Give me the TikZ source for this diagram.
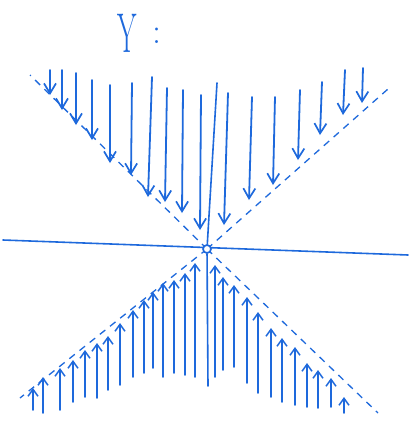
\documentclass[tikz,border=0pt]{standalone}
\usetikzlibrary{arrows.meta}
\definecolor{pen}{RGB}{30,105,220}
\begin{document}
\begin{tikzpicture}[x=1pt,y=-1pt,
  penline/.style={draw=pen,line width=1.6pt,line cap=round},
  downarr/.style={draw=pen,line width=1.8pt,line cap=round,-{Straight Barb[length=10pt,width=12pt,line width=1.7pt]}},
  uparr/.style={draw=pen,line width=1.5pt,line cap=round,-{Straight Barb[length=7pt,width=10pt,line width=1.5pt]}},
  guide/.style={draw=pen,line width=1.3pt,dash pattern=on 7pt off 6pt}]
\useasboundingbox (0,0) rectangle (409,421);
\fill[white] (0,0) rectangle (409,421);
% title
\node[text=pen,anchor=base,font=\fontsize{56}{56}\selectfont,inner sep=0] (ylab) at (127,52) {\scalebox{0.5}[1]{Y}};
\node[text=pen,anchor=base,font=\fontsize{36}{36}\selectfont,inner sep=0] (colon) at (157,43) {:};
% key points
\coordinate (O) at (207,249);
\coordinate (UL) at (30,75);
\coordinate (UR) at (388,89);
\coordinate (LL) at (20,398);
\coordinate (LR) at (378,413);
\coordinate (HL) at (3,240);
\coordinate (HR) at (408,255);
\coordinate (VT) at (217,83);
\coordinate (VB) at (208,386);
% dashed guides
\draw[guide] (O) -- (UL);
\draw[guide] (O) -- (UR);
\draw[guide] (O) -- (LL);
\draw[guide] (O) -- (LR);
% axis
\draw[penline] (HL) -- (HR);
\node[circle,draw=pen,line width=1.7pt,fill=white,minimum size=8pt,inner sep=0] (c) at (O) {};
\draw[penline] (VT) -- (c);
\draw[penline] (c) -- (VB);
% downward arrows
\foreach \xa/\ya/\xb/\yb in {50/70/50/95, 62/70/62/110, 76/73/76/125, 92/80/92/140,
  110/85/110/163, 132/83/131/175, 152/77/148/197, 167/88/165/202, 183/90/182/213,
  201/95/200/230, 228/93/224/225, 252/97/249/200, 275/97/273/185, 300/90/298/160,
  322/82/320/135, 345/70/343/115, 363/68/362/103}
  \draw[downarr] (\xa,\ya) -- (\xb,\yb);
% upward arrows
\foreach \x/\ya/\yb in {33/410/388, 43/413/377, 60/410/368, 73/402/360, 85/397/350,
  97/398/343, 108/390/336, 120/385/323, 133/377/310, 144/373/300, 153/368/292,
  163/377/283, 174/373/280, 185/375/273, 195/377/263, 215/377/265, 223/370/277,
  234/367/285, 247/383/297, 258/393/312, 271/397/328, 282/402/338, 295/405/347,
  307/407/363, 318/408/370, 331/407/378, 344/413/397}
  \draw[uparr] (\x,\ya) -- (\x,\yb);
\end{tikzpicture}
\end{document}
